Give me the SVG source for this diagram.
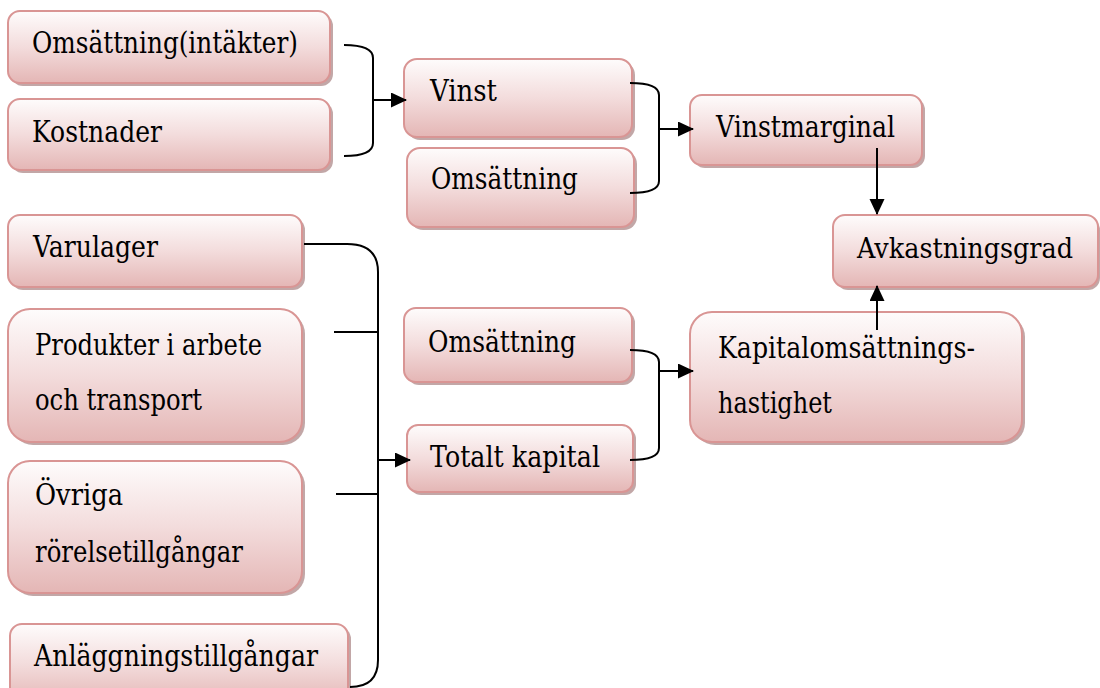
<svg xmlns="http://www.w3.org/2000/svg" width="1100" height="688" viewBox="0 0 1100 688">
<defs>
<linearGradient id="g" x1="0" y1="0" x2="0" y2="1">
<stop offset="0" stop-color="#fefcfc"/>
<stop offset="0.5" stop-color="#f3dcdc"/>
<stop offset="1" stop-color="#e4b6b5"/>
</linearGradient>
<marker id="ah" markerWidth="16" markerHeight="16" refX="15" refY="7.5" orient="auto" markerUnits="userSpaceOnUse">
<path d="M0,0 L16,7.5 L0,15 Z" fill="#000"/>
</marker>
</defs>
<style>
.box{fill:url(#g);stroke:#d99594;stroke-width:2}
.sh{fill:#b39191;opacity:0.8}
.c{fill:none;stroke:#000;stroke-width:2}
.a{fill:none;stroke:#000;stroke-width:2;marker-end:url(#ah)}
</style>
<rect width="1100" height="688" fill="#fff"/>
<g font-family="'DejaVu Serif', serif" font-size="29" fill="#000">
<g id="n1"><rect class="sh" x="11" y="14" width="322" height="72" rx="12"/><rect class="box" x="8" y="11" width="322" height="72" rx="12"/><text x="32" y="53" textLength="266" lengthAdjust="spacingAndGlyphs">Omsättning(intäkter)</text></g>
<g id="n2"><rect class="sh" x="11" y="102" width="322" height="71" rx="12"/><rect class="box" x="8" y="99" width="322" height="71" rx="12"/><text x="32" y="142" textLength="130" lengthAdjust="spacingAndGlyphs">Kostnader</text></g>
<g id="n3"><rect class="sh" x="407" y="62" width="228" height="78" rx="13"/><rect class="box" x="404" y="59" width="228" height="78" rx="13"/><text x="430" y="101" textLength="67" lengthAdjust="spacingAndGlyphs">Vinst</text></g>
<g id="n4"><rect class="sh" x="410" y="151" width="227" height="79" rx="13"/><rect class="box" x="407" y="148" width="227" height="79" rx="13"/><text x="431" y="189" textLength="147" lengthAdjust="spacingAndGlyphs">Omsättning</text></g>
<g id="n5"><rect class="sh" x="693" y="98" width="232" height="70" rx="12"/><rect class="box" x="690" y="95" width="232" height="70" rx="12"/><text x="716" y="137" textLength="179" lengthAdjust="spacingAndGlyphs">Vinstmarginal</text></g>
<g id="n6"><rect class="sh" x="836" y="218" width="264" height="72" rx="12"/><rect class="box" x="833" y="215" width="265" height="72" rx="12"/><text x="857" y="258" font-size="27" textLength="216" lengthAdjust="spacingAndGlyphs">Avkastningsgrad</text></g>
<g id="n7"><rect class="sh" x="11" y="218" width="294" height="72" rx="12"/><rect class="box" x="8" y="215" width="294" height="72" rx="12"/><text x="33" y="257" textLength="125" lengthAdjust="spacingAndGlyphs">Varulager</text></g>
<g id="n8"><rect class="sh" x="11" y="312" width="294" height="133" rx="22"/><rect class="box" x="8" y="309" width="294" height="133" rx="22"/><text x="35" y="355" textLength="227" lengthAdjust="spacingAndGlyphs">Produkter i arbete</text><text x="35" y="410" textLength="167" lengthAdjust="spacingAndGlyphs">och transport</text></g>
<g id="n9"><rect class="sh" x="11" y="464" width="294" height="132" rx="22"/><rect class="box" x="8" y="461" width="294" height="132" rx="22"/><text x="35" y="505" textLength="88" lengthAdjust="spacingAndGlyphs">Övriga</text><text x="35" y="562" textLength="208" lengthAdjust="spacingAndGlyphs">rörelsetillgångar</text></g>
<g id="n10"><rect class="sh" x="13" y="627" width="338" height="80" rx="12"/><rect class="box" x="10" y="624" width="338" height="80" rx="12"/><text x="34" y="666" textLength="284" lengthAdjust="spacingAndGlyphs">Anläggningstillgångar</text></g>
<g id="n11"><rect class="sh" x="407" y="311" width="228" height="74" rx="12"/><rect class="box" x="404" y="308" width="228" height="74" rx="12"/><text x="428" y="352" textLength="148" lengthAdjust="spacingAndGlyphs">Omsättning</text></g>
<g id="n12"><rect class="sh" x="410" y="428" width="226" height="67" rx="11"/><rect class="box" x="407" y="425" width="226" height="67" rx="11"/><text x="430" y="467" textLength="170" lengthAdjust="spacingAndGlyphs">Totalt kapital</text></g>
<g id="n13"><rect class="sh" x="693" y="315" width="332" height="130" rx="22"/><rect class="box" x="690" y="312" width="332" height="130" rx="22"/><text x="718" y="358" textLength="257" lengthAdjust="spacingAndGlyphs">Kapitalomsättnings-</text><text x="718" y="413" textLength="114" lengthAdjust="spacingAndGlyphs">hastighet</text></g>
</g>
<g id="connectors">
<path class="c" d="M344,45 Q373,45 373,58 L373,143 Q373,156 344,156"/>
<path class="a" d="M373,100 L406,100"/>
<path class="c" d="M630,83 Q659,83 659,95 L659,181 Q659,193 630,193"/>
<path class="a" d="M659,129 L693,129"/>
<path class="a" d="M877,148 L877,214"/>
<path class="a" d="M877,330 L877,286"/>
<path class="c" d="M630,350 Q659,350 659,362 L659,448 Q659,460 630,460"/>
<path class="a" d="M659,371 L693,371"/>
<path class="c" d="M304,244 L347,244 Q378,244 378,272 L378,660 Q378,687 350,687"/>
<path class="c" d="M334,332 L378,332"/>
<path class="c" d="M336,494 L378,494"/>
<path class="a" d="M377,460 L410,460"/>
</g>
</svg>
